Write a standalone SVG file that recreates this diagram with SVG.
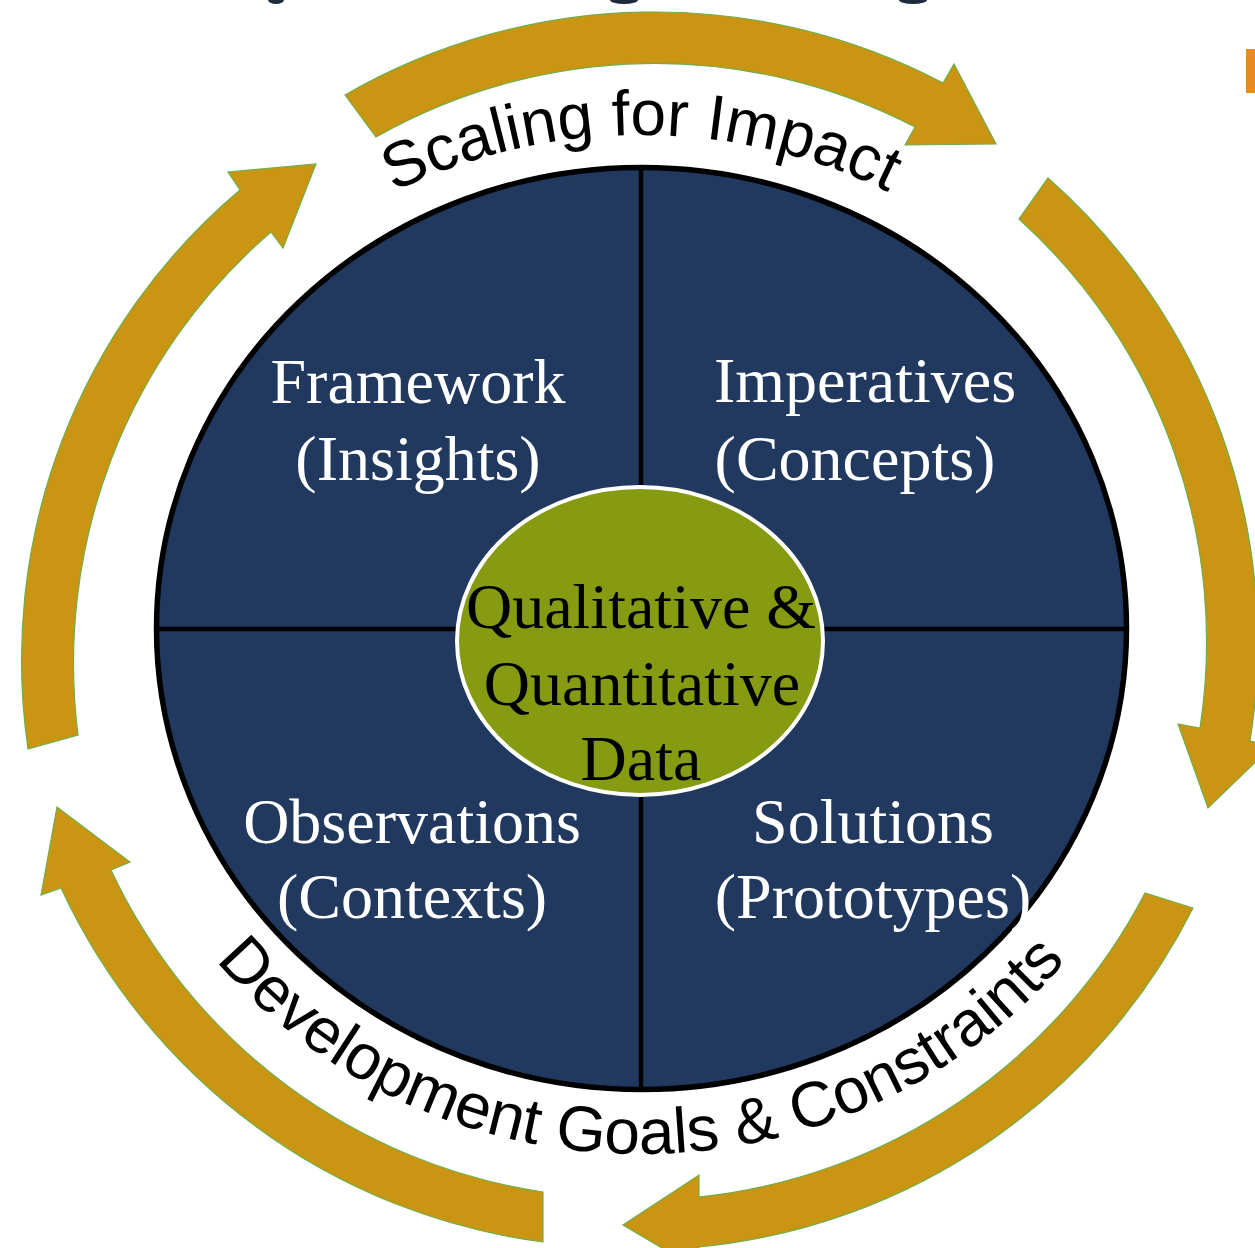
<svg xmlns="http://www.w3.org/2000/svg" width="1255" height="1248" viewBox="0 0 1255 1248">
  <defs>
    <style>
      .arrow { fill: #C99512; stroke: #6FAE47; stroke-width: 1.2; }
      .quad { font-family: "Liberation Serif", "Times New Roman", serif; font-size: 64px; fill: #FFFFFF; text-anchor: middle; }
      .core { font-family: "Liberation Serif", "Times New Roman", serif; font-size: 64px; fill: #000000; text-anchor: middle; }
      .ring { font-family: "Liberation Sans", Arial, sans-serif; font-size: 64px; fill: #000000; }
      .divider { stroke: #000000; stroke-width: 4.5; }
    </style>
    <path id="topArc" d="M 111 629 A 530 494 0 0 1 1171 629"/>
    <path id="bottomArc" d="M 93 629 A 548 525 0 0 0 1189 629"/>
  </defs>

  <rect width="1255" height="1248" fill="#FFFFFF"/>

  <!-- clipped heading fragments along the top edge -->
  <g id="heading-fragments" fill="#1F2A3C">
    <ellipse cx="276" cy="0" rx="8" ry="4"/>
    <ellipse cx="624" cy="0" rx="14" ry="4"/>
    <ellipse cx="913" cy="0" rx="14" ry="4"/>
  </g>
  <rect id="side-tab" x="1246" y="49" width="9" height="44" fill="#E98A25"/>

  <!-- cycle arrows -->
  <g id="connectors">
    <path id="arrow-top" class="arrow" d="M345,95 A620,620 0 0 1 943,83 L954,64 L996,144 L905,145 L915,127 A565,565 0 0 0 376,137 Z"/>
    <path id="arrow-right" class="arrow" d="M1048,178 A620,620 0 0 1 1250,741 L1272,746 L1208,808 L1178,724 L1200,728 A570,570 0 0 0 1019,219 Z"/>
    <path id="arrow-bottom" class="arrow" d="M1193,908 A620,620 0 0 1 699,1247 L699,1270 L623,1225 L699,1175 L699,1197 A570,570 0 0 0 1145,893 Z"/>
    <path id="arrow-lower-left" class="arrow" d="M543,1242 A620,620 0 0 1 61,888 L41,895 L57,807 L130,862 L111,870 A570,570 0 0 0 543,1192 Z"/>
    <path id="arrow-left" class="arrow" d="M28,749 A615,615 0 0 1 240,190 L228,172 L316,164 L283,248 L271,232 A570,570 0 0 0 78,735 Z"/>
  </g>

  <!-- quadrant disc -->
  <g id="disc">
    <ellipse cx="641.5" cy="628.5" rx="485" ry="461" fill="#21385F" stroke="#000000" stroke-width="5.5"/>
    <line class="divider" x1="641" y1="168" x2="641" y2="1090"/>
    <line class="divider" x1="157" y1="629" x2="1126" y2="629"/>
  </g>

  <g id="node-framework">
    <text class="quad" x="418" y="403">Framework</text>
    <text class="quad" x="418" y="480">(Insights)</text>
  </g>
  <g id="node-imperatives">
    <text class="quad" x="865" y="402">Imperatives</text>
    <text class="quad" x="855" y="480">(Concepts)</text>
  </g>
  <g id="node-observations">
    <text class="quad" x="412" y="843">Observations</text>
    <text class="quad" x="412" y="918">(Contexts)</text>
  </g>
  <g id="node-solutions">
    <text class="quad" x="873" y="843">Solutions</text>
    <text class="quad" x="873" y="918">(Prototypes)</text>
  </g>

  <g id="node-data">
    <ellipse cx="640" cy="641" rx="183" ry="154" fill="#869A12" stroke="#FFFFFF" stroke-width="4"/>
    <text class="core" x="641" y="628">Qualitative &amp;</text>
    <text class="core" x="642" y="705">Quantitative</text>
    <text class="core" x="641" y="780">Data</text>
  </g>

  <!-- ring captions -->
  <g id="label-scaling">
    <text class="ring"><textPath href="#topArc" startOffset="50%" text-anchor="middle">Scaling for Impact</textPath></text>
  </g>
  <g id="label-development">
    <text class="ring"><textPath href="#bottomArc" startOffset="50%" text-anchor="middle">Development Goals &amp; Constraints</textPath></text>
  </g>
</svg>
